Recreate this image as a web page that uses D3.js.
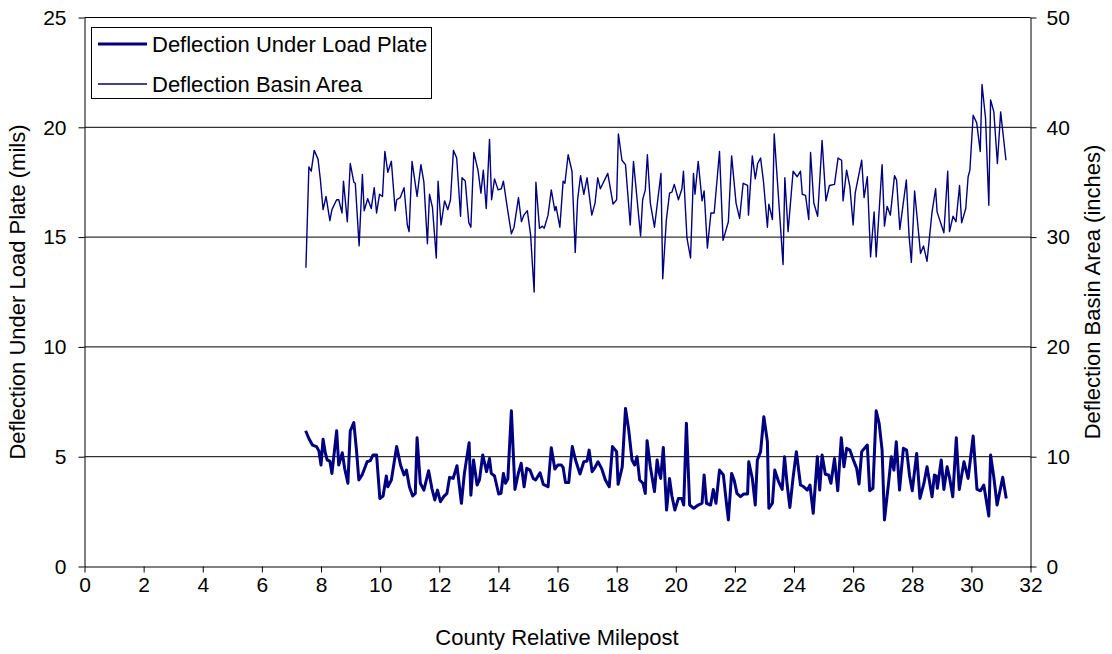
<!DOCTYPE html>
<html>
<head>
<meta charset="utf-8">
<script src="https://cdn.jsdelivr.net/npm/d3@7/dist/d3.min.js"></script>
<style>
  html, body { margin: 0; padding: 0; background: #fff; }
  svg { display: block; font-family: "Liberation Sans", Arial, sans-serif; }
</style>
</head>
<body>
<svg id="chart" width="1112" height="654"></svg>
<script>
// Deflection under the load plate (mils), left axis
const plateMileposts = [7.48,7.59,7.71,7.85,7.93,8.00,8.07,8.15,8.21,8.30,8.37,8.53,8.60,8.72,8.80,8.91,8.99,9.11,9.20,9.28,9.39,9.56,9.67,9.76,9.88,9.99,10.10,10.21,10.26,10.38,10.56,10.69,10.81,10.89,10.99,11.10,11.19,11.25,11.36,11.48,11.64,11.75,11.85,11.94,12.04,12.15,12.26,12.35,12.47,12.60,12.75,12.85,13.01,13.07,13.16,13.28,13.36,13.47,13.60,13.70,13.76,13.87,14.01,14.09,14.17,14.24,14.32,14.44,14.56,14.68,14.77,14.87,14.96,15.07,15.18,15.26,15.41,15.52,15.68,15.79,15.91,16.01,16.13,16.19,16.27,16.38,16.50,16.61,16.76,16.89,17.00,17.07,17.17,17.28,17.37,17.49,17.62,17.75,17.86,18.00,18.05,18.19,18.30,18.41,18.52,18.61,18.69,18.78,18.89,18.97,19.03,19.14,19.28,19.37,19.43,19.49,19.58,19.69,19.79,19.87,19.97,20.09,20.20,20.27,20.36,20.47,20.61,20.76,20.89,20.96,21.04,21.18,21.27,21.36,21.48,21.61,21.69,21.78,21.89,21.98,22.07,22.19,22.30,22.43,22.47,22.59,22.69,22.76,22.87,22.98,23.10,23.15,23.27,23.35,23.48,23.60,23.68,23.77,23.86,23.97,24.08,24.22,24.33,24.45,24.54,24.65,24.79,24.87,24.95,25.06,25.17,25.25,25.37,25.48,25.60,25.69,25.78,25.89,26.00,26.12,26.20,26.29,26.48,26.56,26.67,26.78,26.88,26.98,27.06,27.21,27.29,27.38,27.46,27.57,27.70,27.81,27.91,28.00,28.15,28.26,28.39,28.50,28.67,28.75,28.81,28.85,28.98,29.07,29.18,29.26,29.37,29.49,29.59,29.75,29.89,30.06,30.19,30.31,30.42,30.59,30.65,30.76,30.87,31.06,31.18];
const plateDeflection = [6.18,5.83,5.53,5.46,5.26,4.62,5.79,5.15,4.85,4.80,4.24,6.18,4.62,5.18,4.47,3.79,6.18,6.55,5.30,3.94,4.17,4.77,4.82,5.08,5.08,3.10,3.21,4.12,3.63,3.94,5.46,4.62,4.17,4.39,3.63,3.21,3.33,5.86,3.79,3.48,4.36,3.56,3.03,3.48,2.95,3.18,3.33,4.06,4.01,4.59,2.88,4.24,5.64,3.25,4.85,3.71,3.94,5.08,4.32,4.92,4.24,4.12,3.30,3.33,4.24,3.79,3.98,7.09,3.51,4.27,4.70,3.63,4.47,4.39,4.01,3.94,4.27,3.74,3.63,5.41,4.44,4.62,4.62,4.51,3.82,3.82,5.46,4.85,4.21,4.77,4.80,5.30,4.32,4.54,4.77,4.47,3.94,3.63,5.46,5.23,3.74,4.54,7.20,6.21,4.85,4.62,5.00,3.94,3.79,3.33,5.73,4.54,3.41,4.85,4.32,4.01,5.42,2.57,4.01,3.21,2.57,3.10,3.10,2.80,6.52,2.80,2.65,2.80,2.88,4.17,2.88,2.80,3.51,2.88,4.39,4.17,3.18,2.12,4.24,3.91,3.33,3.18,3.30,3.30,4.77,4.01,2.80,4.85,5.23,6.82,5.68,2.65,2.88,4.39,3.86,3.51,5.00,3.71,2.69,4.06,5.23,3.71,3.63,3.48,3.71,2.42,5.00,3.48,5.08,4.20,4.17,3.79,4.92,3.45,5.86,4.54,5.38,5.30,4.88,4.47,3.76,5.23,5.53,3.45,3.56,7.09,6.52,5.30,2.12,3.94,5.00,4.39,5.68,3.48,5.38,5.30,4.12,3.45,5.15,3.10,3.76,4.54,3.18,4.17,4.12,3.56,4.85,3.51,4.54,4.06,3.18,5.86,3.51,4.77,4.01,5.94,3.51,3.45,3.71,2.30,5.08,4.06,2.80,4.06,3.10];

// Deflection basin area (inches), right axis
const basinMileposts = [7.49,7.59,7.67,7.77,7.90,7.98,8.07,8.17,8.30,8.37,8.53,8.60,8.71,8.76,8.89,8.99,9.11,9.16,9.29,9.40,9.46,9.58,9.70,9.80,9.88,9.98,10.08,10.16,10.26,10.38,10.51,10.56,10.68,10.81,10.92,10.98,11.08,11.25,11.38,11.48,11.60,11.67,11.77,11.90,11.96,12.06,12.18,12.29,12.38,12.48,12.59,12.72,12.77,12.88,13.00,13.07,13.17,13.31,13.41,13.49,13.59,13.70,13.77,13.87,13.99,14.10,14.17,14.30,14.44,14.53,14.68,14.78,14.86,14.98,15.09,15.21,15.27,15.39,15.49,15.55,15.68,15.79,15.91,15.95,16.08,16.19,16.25,16.36,16.49,16.60,16.68,16.78,16.89,17.00,17.16,17.27,17.36,17.45,17.70,17.88,18.00,18.06,18.18,18.30,18.46,18.57,18.81,18.88,18.97,19.04,19.14,19.28,19.50,19.56,19.68,19.79,19.87,19.95,20.09,20.21,20.26,20.38,20.50,20.60,20.65,20.76,20.89,20.96,21.07,21.19,21.30,21.48,21.60,21.78,21.89,22.04,22.16,22.28,22.43,22.46,22.59,22.69,22.77,22.87,22.97,23.10,23.15,23.27,23.33,23.63,23.69,23.80,23.97,24.11,24.22,24.28,24.39,24.50,24.56,24.67,24.80,24.95,25.08,25.20,25.37,25.49,25.61,25.66,25.78,25.89,26.00,26.07,26.29,26.37,26.48,26.59,26.71,26.78,26.98,27.06,27.15,27.26,27.40,27.47,27.58,27.80,27.89,27.97,28.08,28.28,28.38,28.50,28.67,28.79,28.84,29.07,29.20,29.26,29.38,29.48,29.60,29.67,29.81,29.89,29.95,30.06,30.18,30.30,30.36,30.48,30.59,30.65,30.76,30.88,30.99,31.17];
const basinArea = [27.2,36.4,36.0,37.9,37.1,35.2,32.5,33.7,31.5,32.5,33.4,33.4,32.2,35.1,31.4,36.7,35.0,34.9,29.2,35.7,32.4,33.5,32.6,34.5,32.2,33.9,33.7,37.8,35.9,36.9,32.4,33.4,33.6,34.5,31.1,30.5,36.9,33.7,36.6,35.0,29.4,33.9,32.7,28.1,35.1,31.1,33.3,32.5,33.4,37.9,37.2,31.9,35.4,35.1,31.3,30.9,37.7,36.1,34.0,36.1,32.6,38.9,33.4,35.3,34.3,34.4,35.1,32.7,30.3,30.9,33.6,31.4,32.0,32.4,30.2,25.0,35.0,30.8,31.0,30.8,32.0,34.3,32.4,32.8,30.9,35.1,34.9,37.5,36.0,28.6,33.4,35.6,33.9,35.4,32.0,33.1,35.4,34.4,35.8,33.0,33.4,39.4,37.0,36.6,31.1,36.9,30.1,33.4,34.3,37.5,33.1,30.9,35.8,26.2,31.5,34.0,34.1,34.8,33.4,34.4,36.0,29.9,28.1,35.8,33.9,36.9,33.3,34.2,29.0,32.2,32.2,37.8,29.7,31.4,37.4,33.1,31.7,34.9,34.7,32.0,37.4,35.3,36.7,37.2,35.0,30.9,33.0,31.6,39.4,27.5,35.4,30.5,36.0,35.5,36.0,33.9,33.8,31.6,37.7,33.1,31.9,38.8,33.3,34.7,34.8,37.2,37.0,33.3,36.1,34.6,31.1,34.0,37.0,33.6,35.5,28.2,32.3,28.2,36.6,31.0,32.8,32.0,35.6,35.2,30.7,35.2,30.2,27.7,34.2,28.5,29.2,27.8,32.3,34.4,32.3,30.4,36.0,30.5,31.9,31.4,34.7,31.3,32.6,35.5,36.1,41.1,40.4,37.8,43.9,40.8,32.9,42.5,41.4,36.7,41.4,37.0];

// Axis ticks
const milepostTicks = [0,2,4,6,8,10,12,14,16,18,20,22,24,26,28,30,32];
const plateTicks = [0,5,10,15,20,25];
const basinTicks = [0,10,20,30,40,50];

const seriesNames = ["Deflection Under Load Plate", "Deflection Basin Area"];
const xTitle = "County Relative Milepost";
const leftTitle = "Deflection Under Load Plate (mils)";
const rightTitle = "Deflection Basin Area (inches)";

const navy = "#000080";
const svg = d3.select("#chart");

const x = d3.scaleLinear().domain([0, 32]).range([84.5, 1030.5]);
const yL = d3.scaleLinear().domain([0, 25]).range([566.5, 17.5]);
const yR = d3.scaleLinear().domain([0, 50]).range([566.5, 17.5]);

// horizontal gridlines
svg.append("g")
  .selectAll("line")
  .data(plateTicks.filter(d => d > 0))
  .join("line")
  .attr("x1", x(0)).attr("x2", x(32))
  .attr("y1", d => yL(d)).attr("y2", d => yL(d))
  .attr("stroke", "#000").attr("stroke-width", 1);

function styleAxis(g) {
  g.selectAll("path.domain").attr("stroke", "#000");
  g.selectAll(".tick line").attr("stroke", "#000");
  g.selectAll(".tick text")
    .attr("fill", "#000")
    .style("font-size", "21px")
    .style("font-family", "'Liberation Sans', Arial, sans-serif");
}

svg.append("g")
  .attr("transform", `translate(${x(0)},0)`)
  .call(d3.axisLeft(yL).tickValues(plateTicks).tickSize(6).tickSizeOuter(0).tickPadding(12))
  .call(styleAxis);

svg.append("g")
  .attr("transform", `translate(${x(32)},0)`)
  .call(d3.axisRight(yR).tickValues(basinTicks).tickSize(6).tickSizeOuter(0).tickPadding(10))
  .call(styleAxis);

svg.append("g")
  .attr("transform", `translate(0,${yL(0)})`)
  .call(d3.axisBottom(x).tickValues(milepostTicks).tickSize(6).tickSizeOuter(0).tickPadding(5))
  .call(styleAxis);

// series lines
const plateLine = d3.line()
  .x((d, i) => x(plateMileposts[i]))
  .y(d => yL(d));
const basinLine = d3.line()
  .x((d, i) => x(basinMileposts[i]))
  .y(d => yR(d));

svg.append("path")
  .datum(basinArea)
  .attr("d", basinLine)
  .attr("fill", "none")
  .attr("stroke", navy)
  .attr("stroke-width", 1.4)
  .attr("stroke-linejoin", "round");

svg.append("path")
  .datum(plateDeflection)
  .attr("d", plateLine)
  .attr("fill", "none")
  .attr("stroke", navy)
  .attr("stroke-width", 3)
  .attr("stroke-linejoin", "round");

// axis titles
svg.append("text")
  .attr("transform", `translate(25,292) rotate(-90)`)
  .attr("text-anchor", "middle")
  .style("font-size", "22px")
  .text(leftTitle);

svg.append("text")
  .attr("transform", `translate(1100,292) rotate(-90)`)
  .attr("text-anchor", "middle")
  .style("font-size", "22px")
  .text(rightTitle);

svg.append("text")
  .attr("x", 557).attr("y", 645)
  .attr("text-anchor", "middle")
  .style("font-size", "22px")
  .text(xTitle);

// legend
const legend = svg.append("g");
legend.append("rect")
  .attr("x", 91.5).attr("y", 27.5)
  .attr("width", 340).attr("height", 71)
  .attr("fill", "#fff").attr("stroke", "#000").attr("stroke-width", 1);

const legendWidths = [3, 1.4];
const legendRows = [44, 84];
seriesNames.forEach((name, i) => {
  legend.append("line")
    .attr("x1", 98).attr("x2", 147)
    .attr("y1", legendRows[i]).attr("y2", legendRows[i])
    .attr("stroke", navy).attr("stroke-width", legendWidths[i]);
  legend.append("text")
    .attr("x", 152).attr("y", legendRows[i] + 8)
    .style("font-size", "22px")
    .text(name);
});
</script>
</body>
</html>
